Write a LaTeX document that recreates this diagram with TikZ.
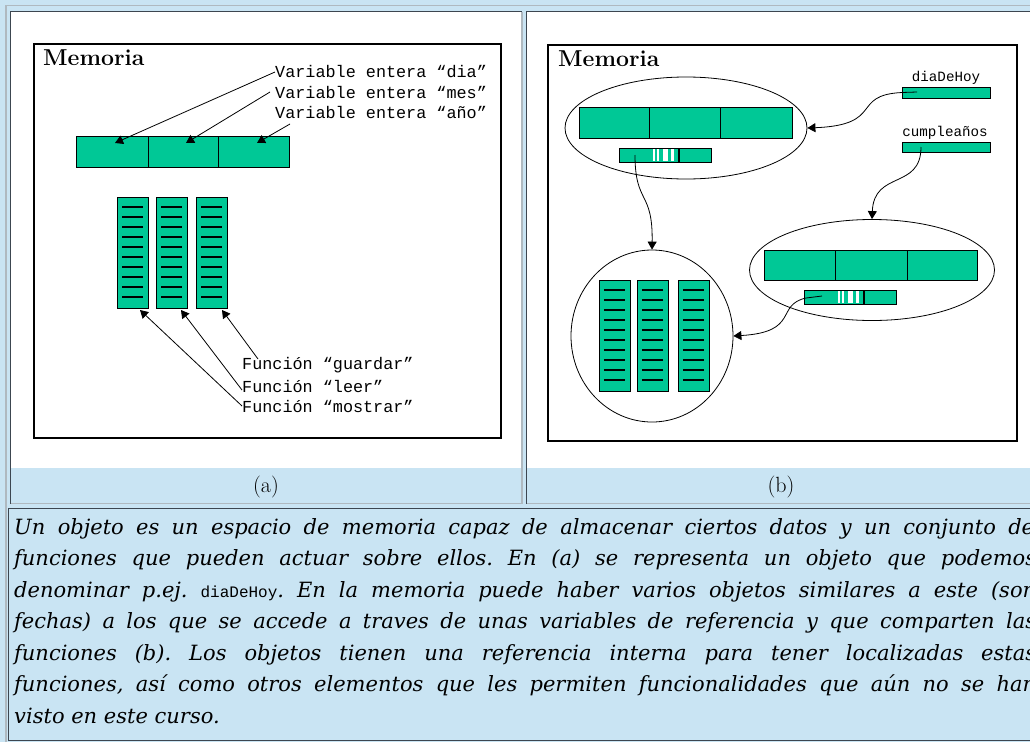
\documentclass[tikz,border=0pt]{standalone}
\usepackage{fontspec}
\usetikzlibrary{arrows.meta,shapes.geometric}
\newfontfamily\labmono{Liberation Mono}
\newfontfamily\capserif{DejaVu Serif}
\newcommand\labfont{\labmono\fontsize{16.8}{17}\selectfont}
\newcommand\blabfont{\labmono\fontsize{14.2}{15}\selectfont}
\newcommand\txtfont{\capserif\itshape\fontsize{21}{24}\selectfont}
\definecolor{bgblue}{RGB}{201,228,243}
\definecolor{cellgreen}{RGB}{0,200,150}
\definecolor{darkb}{RGB}{60,70,80}
\definecolor{lightb}{RGB}{175,185,192}
\newcommand\funcol[3]{%
  \node[cell, minimum width=31, minimum height=111, anchor=north west] (#3) at (#1,#2) {};
  \foreach \k in {0,...,9}
    \draw[line width=1.6pt] ({#1+5},{#2+10+10*\k}) -- ({#1+26},{#2+10+10*\k});
}
\newcommand\refbox[3]{%
  \node[cell, minimum width=92, minimum height=14, anchor=north west] (#3) at (#1,#2) {};
  \fill[white] ({#1+33.5},{#2+1}) rectangle ({#1+35.5},{#2+13});
  \fill[white] ({#1+38},{#2+1}) rectangle ({#1+40},{#2+13});
  \fill[white] ({#1+44},{#2+1}) rectangle ({#1+48.5},{#2+13});
  \fill[white] ({#1+52},{#2+1}) rectangle ({#1+54.5},{#2+13});
  \draw[line width=1.2pt] ({#1+60},#2) -- ({#1+60},{#2+14});
}
\begin{document}
\frenchspacing
\begin{tikzpicture}[x=1pt,y=-1pt,
  lab/.style={font=\labfont, inner sep=0pt, anchor=west},
  blab/.style={font=\blabfont, inner sep=0pt},
  arr/.style={-{Triangle[width=9pt,length=8pt]}, line width=0.8pt},
  cell/.style={draw, fill=cellgreen, line width=0.9pt, inner sep=0pt, outer sep=0pt},
  memtitle/.style={font=\bfseries\fontsize{23}{23}\selectfont, inner sep=0pt, anchor=west},
  oval/.style={draw, ellipse, line width=0.8pt, inner sep=0pt},
  txt/.style={font=\txtfont, inner sep=0pt, anchor=base west}]
\useasboundingbox (0,0) rectangle (1030,742);
\fill[bgblue] (0,0) rectangle (1030,742);
% outer table border
\draw[lightb, line width=1.5pt] (6,742) -- (6,5.5) -- (1030,5.5);
% cells
\fill[white] (11,12) rectangle (522,468);
\fill[white] (527,12) rectangle (1030,468);
\draw[darkb, line width=1.5pt] (10.5,503.5) -- (10.5,11.5) -- (522,11.5);
\draw[lightb, line width=1.5pt] (10.5,503.5) -- (522,503.5) -- (522,11.5);
\draw[darkb, line width=1.5pt] (526.5,503.5) -- (526.5,11.5) -- (1030,11.5);
\draw[lightb, line width=1.5pt] (526.5,503.5) -- (1030,503.5);
% text box border
\draw[darkb, line width=1.5pt] (8.5,741) -- (8.5,508.5) -- (1030,508.5);
\draw[darkb, line width=1.5pt] (8.5,740.5) -- (1030,740.5);

% ---------------- panel (a)
\draw[line width=2.2pt] (34,44) rectangle (501,438);
\node[memtitle] (mema) at (43,58) {Memoria};
\node[cell, minimum width=213, minimum height=31, anchor=north west] (bara) at (76,136) {};
\draw[line width=0.9pt] (148,136) -- (148,167);
\draw[line width=0.9pt] (218,136) -- (218,167);
\coordinate (ta1) at (115,143);
\coordinate (ta2) at (186,143);
\coordinate (ta3) at (257,143);
\node[lab] (vdia) at (275,72) {Variable entera “dia”};
\node[lab] (vmes) at (275,92) {Variable entera “mes”};
\node[lab] (vano) at (275,112) {Variable entera “año”};
\coordinate (sano) at (290,124);
\draw[arr] (vdia.west) -- (ta1);
\draw[arr] ([xshift=-5]vmes.west) -- (ta2);
\draw[arr] (sano) -- (ta3);
\funcol{117}{197}{fa1}
\funcol{156}{197}{fa2}
\funcol{196}{197}{fa3}
\node[lab] (fg) at (242,365) {Función “guardar”};
\node[lab] (fl) at (242,386) {Función “leer”};
\node[lab] (fm) at (242,406) {Función “mostrar”};
\coordinate (sg) at (258,359);
\coordinate (ba1) at (140,310);
\coordinate (ba2) at (181,310);
\coordinate (ba3) at (222,310);
\draw[arr] (sg) -- (ba3);
\draw[arr] ([yshift=-4]fl.west) -- (ba2);
\draw[arr] (fm.west) -- (ba1);
\node[font=\fontsize{22}{22}\selectfont, inner sep=0pt] (capa) at (266,487) {(a)};

% ---------------- panel (b)
\draw[line width=2.6pt] (548,45) rectangle (1017,441);
\node[memtitle] (memb) at (558,59) {Memoria};
\node[oval, minimum width=242, minimum height=102] (e1) at (686,128) {};
\node[cell, minimum width=213, minimum height=31, anchor=north west] (barb1) at (579,107) {};
\draw[line width=0.9pt] (649,107) -- (649,138);
\draw[line width=0.9pt] (720,107) -- (720,138);
\refbox{619}{148}{r1}
\node[oval, minimum width=162, minimum height=172] (c1) at (652,336) {};
\funcol{599}{280}{fb1}
\funcol{637}{280}{fb2}
\funcol{678}{280}{fb3}
\node[oval, minimum width=245, minimum height=101] (e2) at (872,270) {};
\node[cell, minimum width=213, minimum height=30, anchor=north west] (barb2) at (764,250) {};
\draw[line width=0.9pt] (835,250) -- (835,280);
\draw[line width=0.9pt] (907,250) -- (907,280);
\refbox{804}{290}{r2}
\node[blab] (tdia) at (946,78) {diaDeHoy};
\node[cell, minimum width=88, minimum height=11, anchor=north west] (bdia) at (902,87) {};
\node[blab] (tcum) at (945,133) {cumpleaños};
\node[cell, minimum width=88, minimum height=10, anchor=north west] (bcum) at (902,142) {};
% connectors
\coordinate (s1) at (635,155);
\draw[arr] (s1) .. controls (635,205) and (653,190) .. (c1.north);
\coordinate (sdia) at (917,92);
\draw[arr] (sdia) -- (bdia.west) .. controls (850,95) and (885,125) .. (e1.east);
\coordinate (scum) at (921,147);
\draw[arr] (scum) .. controls (921,190) and (874,170) .. (e2.north);
\coordinate (s2) at (822,296);
\draw[arr] (s2) -- (806,298) .. controls (775,305) and (800,332) .. (c1.east);
\node[font=\fontsize{22}{22}\selectfont, inner sep=0pt] (capb) at (781,487) {(b)};

% ---------------- caption text
\node[txt] (l1) at (14,534) {\makebox[1020pt][s]{Un objeto es un espacio de memoria capaz de almacenar ciertos datos y un conjunto de}};
\node[txt] (l2) at (14,565.5) {\makebox[1022pt][s]{funciones que pueden actuar sobre ellos. En (a) se representa un objeto que podemos}};
\node[txt] (l3) at (14,597) {\makebox[1022pt][s]{denominar p.ej. {\upshape\labmono\fontsize{16}{17}\selectfont diaDeHoy}. En la memoria puede haber varios objetos similares a este (son}};
\node[txt] (l4) at (14,628.5) {\makebox[1022pt][s]{fechas) a los que se accede a traves de unas variables de referencia y que comparten las}};
\node[txt] (l5) at (14,660) {\makebox[1022pt][s]{funciones (b). Los objetos tienen una referencia interna para tener localizadas estas}};
\node[txt] (l6) at (14,691.5) {\makebox[1022pt][s]{funciones, así como otros elementos que les permiten funcionalidades que aún no se han}};
\node[txt] (l7) at (14,723) {visto en este curso.};
\end{tikzpicture}
\end{document}
